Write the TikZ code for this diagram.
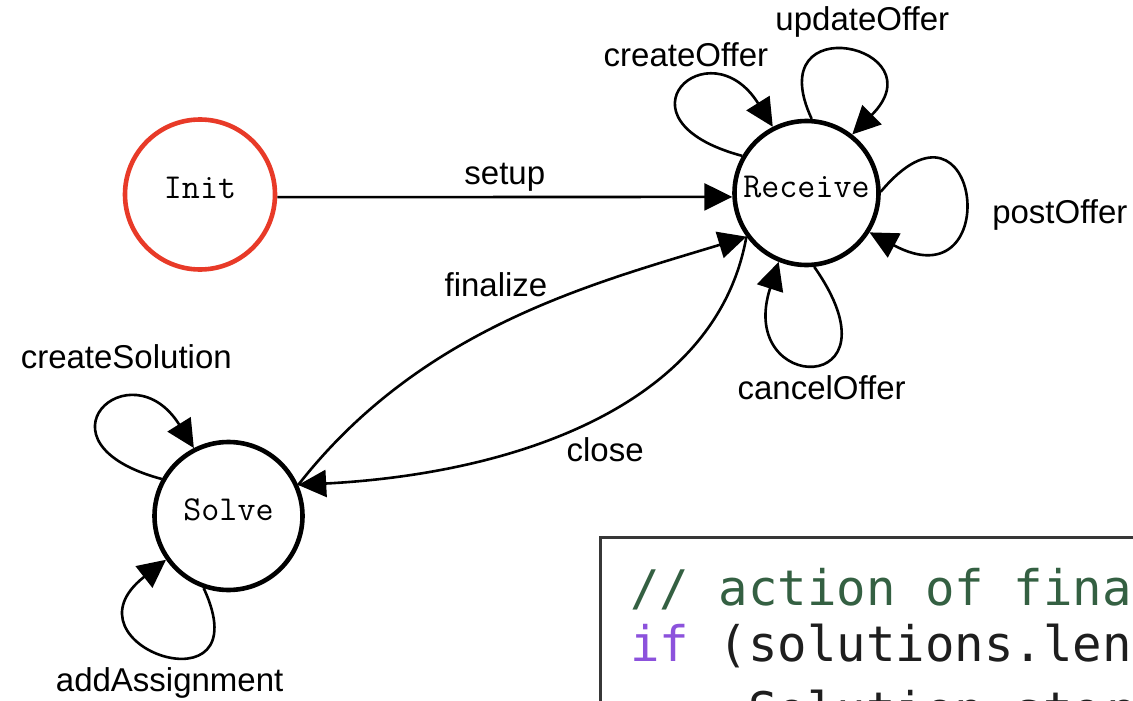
\documentclass[tikz,border=0pt]{standalone}
\usepackage{fontspec}
\setmainfont{Liberation Sans}
\newfontfamily\codefont{DejaVu Sans Mono}
\usetikzlibrary{arrows.meta}
\definecolor{initred}{RGB}{232,58,40}
\definecolor{cmtgreen}{RGB}{52,96,66}
\definecolor{kwpurple}{RGB}{140,82,220}
\definecolor{codeink}{RGB}{30,30,30}
\definecolor{framegray}{RGB}{55,55,55}
\begin{document}
\begin{tikzpicture}[x=1pt,y=1pt,
  state/.style={circle, draw=black, line width=4.6pt, inner sep=0pt,
    text height=20pt, text depth=12pt,
    font=\fontsize{35}{40}\ttfamily},
  initstate/.style={state, draw=initred},
  edge/.style={line width=2.6pt, -{Triangle[length=28pt,width=27pt]}},
  lbl/.style={font=\fontsize{33}{38}\selectfont, inner sep=0pt},
  codeline/.style={anchor=base west, inner sep=0pt,
    font=\fontsize{49}{56}\codefont, text=codeink},
  codeframe/.style={line width=3pt, draw=framegray}
]
\useasboundingbox (0,0) rectangle (1133,-701);
\begin{scope}
\clip (0,0) rectangle (1133,-701);

% states
\node[initstate, minimum size=150pt] (init) at (200,-194.5) {Init};
\node[state, minimum size=144pt] (receive) at (806.5,-193) {Receive};
\node[state, minimum size=148pt] (solve) at (228.5,-516) {Solve};

% setup
\draw[edge] (init.-2) -- node[lbl, above=4pt] {setup} (receive.183);

% finalize / close
\draw[edge] (solve.24) .. controls +(52:200) and +(197:160) .. node[lbl, pos=0.45, shift={(8pt,46pt)}] {finalize} (receive.216);
\draw[edge] (receive.216) .. controls +(-100:170) and +(3:220) .. node[lbl, pos=0.45, shift={(-12pt,-43pt)}] {close} (solve.24);

% loops on Receive
\draw[edge] (receive.150) .. controls +(165:140) and +(122:120) .. node[lbl, pos=0.5, shift={(3pt,35pt)}] {createOffer} (receive.117);
\draw[edge] (receive.86) .. controls +(115:125) and +(45:125) .. node[lbl, pos=0.5, shift={(17pt,29pt)}] {updateOffer} (receive.52);
\draw[edge] (receive.1) .. controls +(50:155) and +(-28:155) .. node[lbl, pos=0.5, shift={(96pt,-20pt)}] {postOffer} (receive.-32);
\draw[edge] (receive.-84) .. controls +(-55:160) and +(-108:140) .. node[lbl, pos=0.5, shift={(7pt,-24pt)}] {cancelOffer} (receive.-112);

% loops on Solve
\draw[edge] (solve.151) .. controls +(165:140) and +(122:120) .. node[lbl, pos=0.5, shift={(23pt,55pt)}] {createSolution} (solve.117);
\draw[edge] (solve.-109) .. controls +(-65:140) and +(-142:140) .. node[lbl, pos=0.5, shift={(4pt,-29pt)}] {addAssignment} (solve.-145);

% code excerpt
\draw[codeframe] (600,-760) -- (600,-537) -- (1180,-537);
\node[codeline, text=cmtgreen] (c1) at (630,-605) {// action of finalize};
\node[codeline] (c2) at (630,-661) {\textcolor{kwpurple}{if} (solutions.length};
\node[codeline] (c3) at (748,-727) {Solution.store};
\end{scope}
\end{tikzpicture}
\end{document}
